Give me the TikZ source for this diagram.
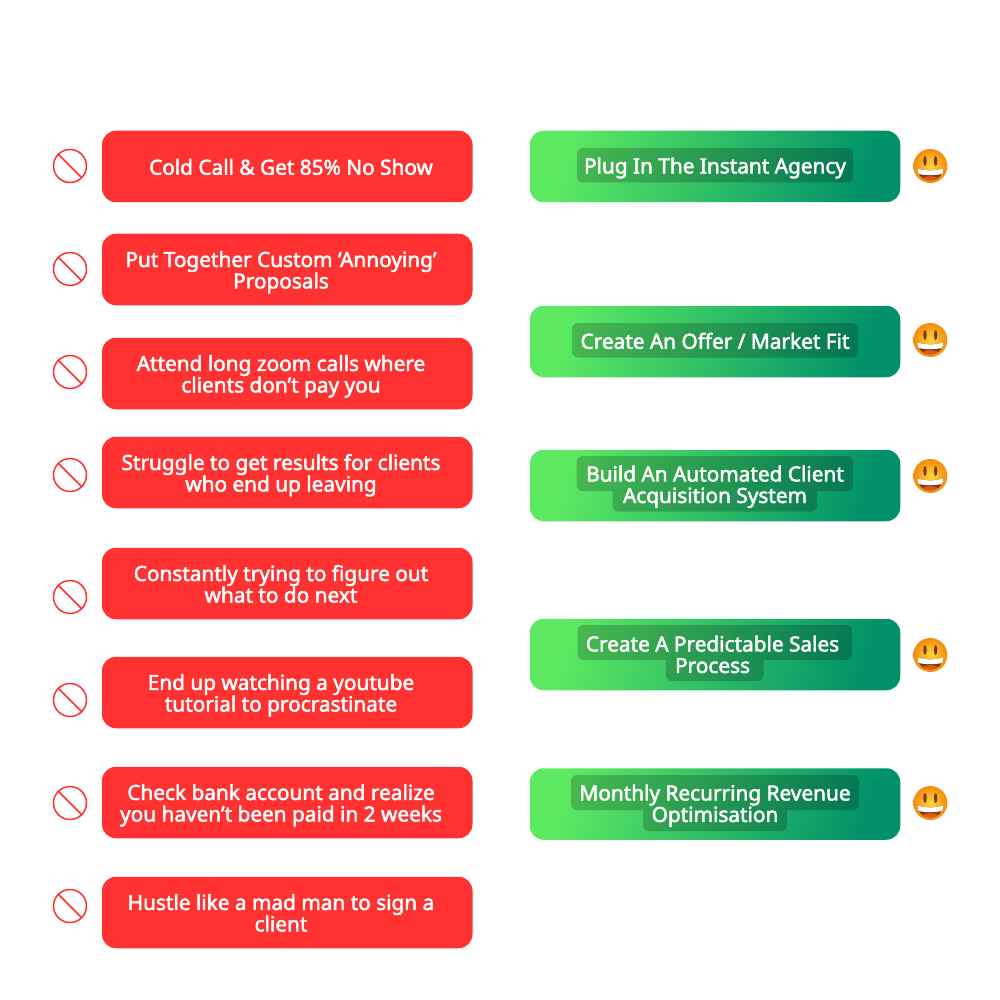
\documentclass[tikz,border=0pt]{standalone}
\usepackage{fontspec}
\setmainfont{Noto Sans}[FakeBold=2.4]
\definecolor{redbox}{HTML}{FF3131}
\definecolor{greenL}{HTML}{5DEA62}
\definecolor{greenR}{HTML}{00916A}
\definecolor{faceY}{HTML}{FFD93B}
\definecolor{faceO}{HTML}{F58A0B}
\definecolor{mouthB}{HTML}{7A3A10}
\definecolor{tongueO}{HTML}{D9591B}
\tikzset{
  x=1pt,y=-1pt,
  redcard/.style={fill=redbox,rounded corners=14pt,minimum width=370.5pt,minimum height=71.5pt,inner sep=0pt},
  greencard/.style={rounded corners=14pt,left color=greenL,right color=greenR,shading angle=72,minimum width=370.5pt,minimum height=71.5pt,inner sep=0pt},
  cardtext/.style={text=white,font=\fontsize{20.8}{21.5}\bfseries\selectfont,align=center,inner sep=0pt,anchor=center},
  lineband/.style={fill=black,rounded corners=6pt,inner sep=0pt,minimum height=0pt},
  nosign/.style={circle,draw=redbox,line width=1.5pt,minimum size=33pt,inner sep=0pt},
  slash/.style={draw=redbox,line width=1.5pt},
  face/.style={circle,inner color=faceY,outer color=faceO,minimum size=34pt,inner sep=0pt},
}
\newcommand{\redrow}[5]{% name, card centre y, sign y, text x, text
  \node[redcard] (#1) at (287.25,#2) {};
  \node[cardtext] (#1t) at (#4,#2+3.5) {\strut #5\strut};
  \node[nosign] (#1n) at (70,#3) {};
  \draw[slash] (#1n.135) -- (#1n.-45);
}
\newcommand{\smiley}[2]{% name, centre y
  \node[face] (#1) at (930.3,#2) {};
  \fill[mouthB] (925,#2-5) ellipse (1.7 and 5);
  \fill[mouthB] (935.6,#2-5) ellipse (1.7 and 5);
  \fill[mouthB] (917.5,#2+2.5) .. controls (926,#2+5) and (934.6,#2+5) .. (943.1,#2+2.5)
     .. controls (943.1,#2+10) and (937,#2+14.5) .. (930.3,#2+14.5)
     .. controls (923.6,#2+14.5) and (917.5,#2+10) .. (917.5,#2+2.5) -- cycle;
  \fill[tongueO] (922.5,#2+12) .. controls (926,#2+9.5) and (934.6,#2+9.5) .. (938.1,#2+12)
     .. controls (936,#2+13.8) and (933,#2+14.5) .. (930.3,#2+14.5)
     .. controls (927.6,#2+14.5) and (924.6,#2+13.8) .. (922.5,#2+12) -- cycle;
  \fill[white] (917.5,#2+2.5) .. controls (926,#2+5) and (934.6,#2+5) .. (943.1,#2+2.5)
     .. controls (943.1,#2+5) and (942.7,#2+6.8) .. (941.8,#2+8)
     .. controls (934,#2+9.6) and (926.6,#2+9.6) .. (918.8,#2+8)
     .. controls (917.9,#2+6.8) and (917.5,#2+5) .. (917.5,#2+2.5) -- cycle;
}
\begin{document}
\begin{tikzpicture}
\lineskiplimit=-20pt
\useasboundingbox[fill=white] (0,0) rectangle (1000,1000);
% left column
\redrow{r1}{166.5}{166}{291}{Cold Call \& Get 85\% No Show}
\redrow{r2}{269.5}{269}{281}{Put Together Custom ‘Annoying’\\Proposals}
\redrow{r3}{373.5}{372}{281}{Attend long zoom calls where\\clients don’t pay you}
\redrow{r4}{472.5}{475}{281}{Struggle to get results for clients\\who end up leaving}
\redrow{r5}{583.5}{597}{281}{Constantly trying to figure out\\what to do next}
\redrow{r6}{692.5}{700}{281}{End up watching a youtube\\tutorial to procrastinate}
\redrow{r7}{802.5}{803}{281}{Check bank account and realize\\you haven’t been paid in 2 weeks}
\redrow{r8}{912.5}{906}{281}{Hustle like a mad man to sign a\\client}
% right column cards
\node[greencard] (g1) at (715,166.5) {};
\node[greencard] (g2) at (715,341.5) {};
\node[greencard] (g3) at (715,485.5) {};
\node[greencard] (g4) at (715,654.5) {};
\node[greencard] (g5) at (715,804) {};
% line bands under the text
\begin{scope}[transparency group,opacity=.2]
  \fill[lineband] (577,148) rectangle (853,182.5);
  \fill[lineband] (572,323) rectangle (858,357.5);
  \fill[lineband] (576.5,456) rectangle (853,491);
  \fill[lineband] (612.5,484) rectangle (817,511.5);
  \fill[lineband] (577.5,625) rectangle (852,660);
  \fill[lineband] (666,653) rectangle (763.5,681);
  \fill[lineband] (571,775) rectangle (859,810);
  \fill[lineband] (643,803) rectangle (787,831);
\end{scope}
\node[cardtext] (g1t) at (715,168.7) {\strut Plug In The Instant Agency\strut};
\node[cardtext] (g2t) at (715,344) {\strut Create An Offer / Market Fit\strut};
\node[cardtext] (g3t) at (715,487.5) {\strut Build An Automated Client\\Acquisition System\strut};
\node[cardtext] (g4t) at (712.5,657.5) {\strut Create A Predictable Sales\\Process\strut};
\node[cardtext] (g5t) at (715,806.5) {\strut Monthly Recurring Revenue\\Optimisation\strut};
% faces
\smiley{f1}{166}
\smiley{f2}{340}
\smiley{f3}{476}
\smiley{f4}{655}
\smiley{f5}{803}
\end{tikzpicture}
\end{document}
